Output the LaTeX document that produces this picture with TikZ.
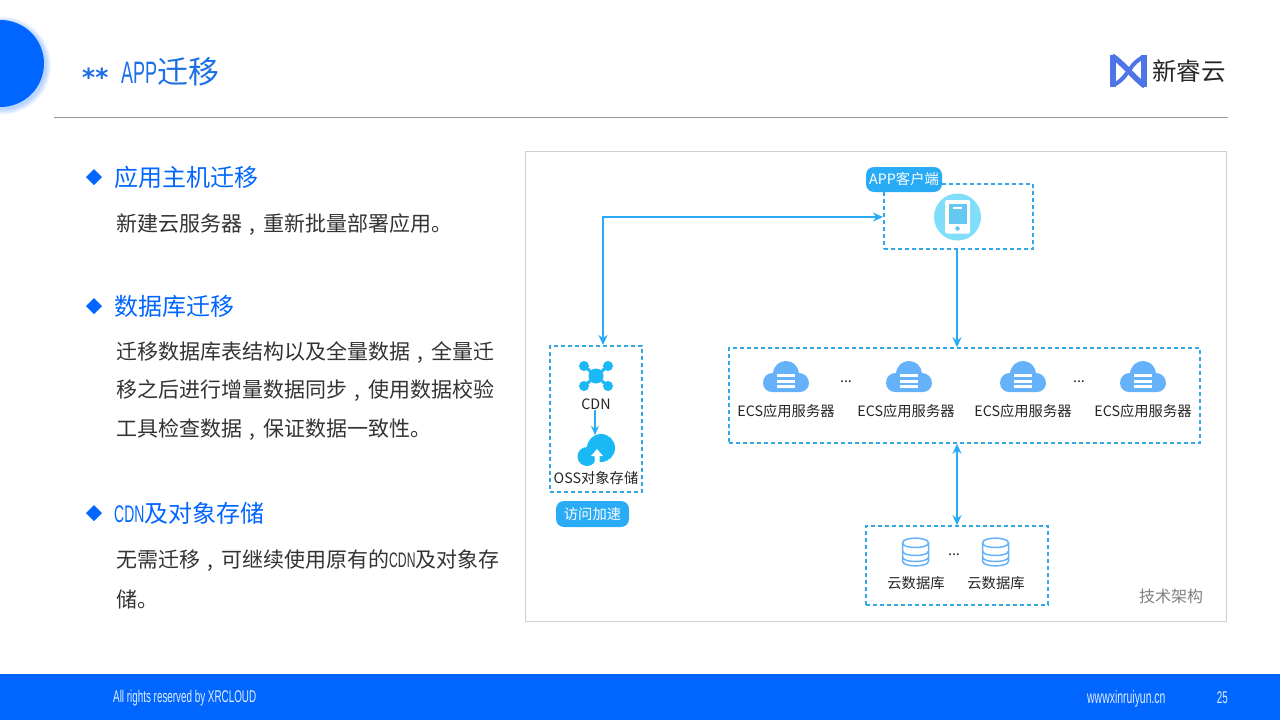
\documentclass[tikz,border=0pt]{standalone}
\usepackage{fontspec}
\usetikzlibrary{arrows.meta}
\setmainfont{Noto Sans CJK SC}
\newfontfamily\narrowfont[FakeStretch=0.58]{Liberation Sans}
\newfontfamily\starfont{DejaVu Sans}
\newcommand{\midcomma}{\makebox[1em]{,}}
\definecolor{mainblue}{RGB}{0,102,255}
\definecolor{titleblue}{RGB}{26,110,230}
\definecolor{linkblue}{RGB}{41,171,245}
\definecolor{dashblue}{RGB}{51,168,232}
\definecolor{iconblue}{RGB}{102,178,250}
\definecolor{cyanblue}{RGB}{26,184,245}
\definecolor{palecyan}{RGB}{128,222,250}
\definecolor{logoblue}{RGB}{79,116,232}
\tikzset{
	headtext/.style={anchor=west,inner sep=0pt,text=mainblue,font=\fontsize{24}{28}\selectfont},
	bodytext/.style={anchor=west,inner sep=0pt,text=black!80,font=\fontsize{21}{25}\selectfont},
	smalltext/.style={inner sep=0pt,text=black!85,font=\fontsize{14.3}{17}\selectfont},
	foottext/.style={inner sep=0pt,text=white!88!mainblue,font=\narrowfont\fontsize{17}{20}\selectfont},
	dashbox/.style={draw=dashblue,line width=1.6pt,dash pattern=on 4pt off 3pt,inner sep=0pt},
	pill/.style={fill=linkblue,rounded corners=8pt,inner sep=0pt,text=white,font=\fontsize{14.3}{17}\selectfont},
	link/.style={draw=linkblue,line width=1.7pt,>={Stealth[length=10pt,width=9pt]}},
	logoline/.style={draw=logoblue,line cap=butt},
	bullet/.pic={\fill [mainblue] (-8,0) -- (0,-8) -- (8,0) -- (0,8) -- cycle ;},
	ecscloud/.pic={
		\begin{scope}[yscale=-1]
		\fill [iconblue] (-23,8) .. controls (-23,1) and (-18,-2) .. (-13,-2) .. controls (-12,-10) and (-6,-14) .. (0,-14) .. controls (7,-14) and (12,-9) .. (13,-2) .. controls (18,-2) and (23,2) .. (23,8) .. controls (23,13) and (19,17) .. (14,17) -- (-14,17) .. controls (-19,17) and (-23,13) .. (-23,8) -- cycle ;
		\foreach \bary in {-1,4.5,10}
			\fill [white] (-9,\bary) rectangle (9,\bary+3.4);
		\end{scope}
	},
	dbicon/.pic={
		\begin{scope}[yscale=-1]
		\draw [iconblue,line width=1.5pt] (-13,-9) .. controls (-13,-15.5) and (13,-15.5) .. (13,-9) -- (13,9) .. controls (13,15.5) and (-13,15.5) .. (-13,9) -- cycle ;
		\draw [iconblue,line width=1.5pt] (-13,-9) .. controls (-13,-3) and (13,-3) .. (13,-9) ;
		\draw [iconblue,line width=1.5pt] (-13,-1) .. controls (-13,5) and (13,5) .. (13,-1) ;
		\draw [iconblue,line width=1.5pt] (-13,5) .. controls (-13,11) and (13,11) .. (13,5) ;
		\end{scope}
	},
}
\begin{document}
\begin{tikzpicture}[x=1pt,y=1pt,yscale=-1,xscale=1]
	\useasboundingbox (0,0) rectangle (1280,720);
	%Shape: Background
	\fill [white] (0,0) rectangle (1280,720);
	%Shape: Corner circle with soft shadow
	\foreach \rad in {49,48,47,46,45,44}
		\fill [mainblue,opacity=0.05] (2,65.5) circle (\rad);
	\fill [mainblue] (0.5,63.5) circle (43.5);
	%Straight Lines
	\draw [color=black!40,line width=0.8pt] (54,117.5) -- (1228,117.5) ;
	%Shape: Footer
	\fill [mainblue] (0,674) rectangle (1280,720);
	%Shape: Frame
	\draw [color=black!18,line width=0.8pt] (525.5,151.5) rectangle (1226.5,621.5) ;

	% Title
	\draw (82,77) node [anchor=west,inner sep=0pt,text=titleblue,font=\starfont\bfseries\fontsize{25}{28}\selectfont] (titlestars) {**};
	\draw (121,72) node [anchor=west,inner sep=0pt,text=titleblue,font=\fontsize{31}{36}\selectfont] (titletext) {{\narrowfont APP}迁移};

	%Shape: Logo
	\draw [logoline,line width=6pt] (1113,55) -- (1113,87) ;
	\draw [logoline,line width=6pt] (1144,55) -- (1144,87) ;
	\draw [logoline,line width=5.5pt] (1112,56) .. controls (1122,62) and (1135,79) .. (1145,86) ;
	\draw [logoline,line width=4pt] (1143,57) .. controls (1138,60) and (1134,63) .. (1130,69) ;
	\draw [logoline,line width=4pt] (1114,85) .. controls (1119,82) and (1123,79) .. (1127,73) ;
	\fill [white] (1109,50) -- (1148,50) -- (1148,53.5) -- (1128.5,53.5) -- cycle ;
	\fill [white] (1109,92) -- (1148,92) -- (1148,88.5) -- (1109,88.5) -- cycle ;
	\draw (1152,71) node [anchor=west,inner sep=0pt,text=black!85,font=\fontsize{24.5}{28}\selectfont] (logotext) {新睿云};

	%Left column
	\pic at (94,177) {bullet};
	\draw (114,177) node [headtext] (headhost) {应用主机迁移};
	\draw (116,225) node [bodytext] (bodyhost) {新建云服务器\midcomma 重新批量部署应用。};
	\pic at (94,306) {bullet};
	\draw (114,306) node [headtext] (headdata) {数据库迁移};
	\draw (116,353) node [bodytext] (bodydataa) {迁移数据库表结构以及全量数据\midcomma 全量迁};
	\draw (116,391) node [bodytext] (bodydatab) {移之后进行增量数据同步\midcomma 使用数据校验};
	\draw (116,430) node [bodytext] (bodydatac) {工具检查数据\midcomma 保证数据一致性。};
	\pic at (94,513) {bullet};
	\draw (114,513) node [headtext] (headcdn) {{\narrowfont CDN}及对象存储};
	\draw (116,561) node [bodytext] (bodycdna) {无需迁移\midcomma 可继续使用原有的{\narrowfont CDN}及对象存};
	\draw (116,599) node [bodytext] (bodycdnb) {储。};

	%Dashed boxes
	\draw (958.5,216.5) node [dashbox,minimum width=149,minimum height=65] (appbox) {};
	\draw (596,419) node [dashbox,minimum width=92,minimum height=146] (cdnbox) {};
	\draw (964.5,395.5) node [dashbox,minimum width=471,minimum height=95] (ecsbox) {};
	\draw (957,565.5) node [dashbox,minimum width=182,minimum height=79] (dbbox) {};

	%Pills
	\draw (904,179.5) node [pill,minimum width=76,minimum height=25] (apppill) {APP客户端};
	\draw (592.5,514) node [pill,minimum width=73,minimum height=26] (speedpill) {访问加速};

	%Connectors
	\coordinate (cdntop) at (603,345);
	\coordinate (appleft) at (883,217);
	\draw [link,<->] (cdntop) |- (appleft) ;
	\draw [link,->] (appbox.south -| 957,0) -- (ecsbox.north -| 957,0) ;
	\draw [link,<->] (dbbox.north) -- (dbbox.north |- ecsbox.south) ;

	%Shape: Phone icon
	\fill [palecyan] (957.5,217) circle (23.5);
	\fill [white,rounded corners=1.5pt] (945,200) rectangle (970,233.5);
	\fill [color={rgb, 255:red, 100; green, 200; blue, 240 }] (948.5,204) rectangle (966.5,224);
	\fill [white] (953,207) rectangle (962,209);
	\fill [color={rgb, 255:red, 100; green, 200; blue, 240 }] (957.5,228.5) circle (2.3);

	%Shape: CDN icon
	\foreach \dotx/\doty in {584/366,608/366,584/386,608/386} {
		\draw [cyanblue,line width=3pt] (596,376) -- (\dotx,\doty) ;
		\fill [cyanblue] (\dotx,\doty) circle (5);
	}
	\fill [cyanblue] (596,376) circle (7.5);
	\draw (596,404) node [smalltext] (cdnlabel) {CDN};
	\draw (596,478) node [smalltext] (osslabel) {OSS对象存储};
	\coordinate (cdnarrowend) at (595,435);
	\draw [link,->,>={Stealth[length=9pt,width=8pt]}] (cdnlabel.south -| cdnarrowend) -- (cdnarrowend) ;

	%Shape: OSS icon
	\fill [cyanblue] (601,448) circle (14);
	\fill [cyanblue] (587,456.5) circle (9.5);
	\fill [white] (597,449) -- (603,456) -- (599.5,456) -- (599.5,464) -- (594.5,464) -- (594.5,456) -- (591,456) -- cycle ;

	%ECS row
	\pic at (786,375) {ecscloud};
	\pic at (909,375) {ecscloud};
	\pic at (1023,375) {ecscloud};
	\pic at (1143,375) {ecscloud};
	\draw (846,382) node [smalltext] (ecsdotsa) {...};
	\draw (1079,382) node [smalltext] (ecsdotsb) {...};
	\draw (786,411) node [smalltext] (ecslabela) {ECS应用服务器};
	\draw (906,411) node [smalltext] (ecslabelb) {ECS应用服务器};
	\draw (1023,411) node [smalltext] (ecslabelc) {ECS应用服务器};
	\draw (1143,411) node [smalltext] (ecslabeld) {ECS应用服务器};

	%Database row
	\pic at (915.5,552) {dbicon};
	\pic at (995.5,552) {dbicon};
	\draw (954,555) node [smalltext] (dbdots) {...};
	\draw (916,583) node [smalltext] (dblabela) {云数据库};
	\draw (996,583) node [smalltext] (dblabelb) {云数据库};
	\draw (1171,596) node [inner sep=0pt,text=black!50,font=\fontsize{16}{19}\selectfont] (archlabel) {技术架构};

	%Footer text
	\draw (113,698) node [foottext,anchor=west] (rightstext) {All rights reserved by XRCLOUD};
	\draw (1087,698.5) node [foottext,anchor=west,font=\narrowfont\fontsize{18}{20}\selectfont] (sitetext) {wwwxinruiyun.cn};
	\draw (1228,698) node [foottext,anchor=east] (pagetext) {25};
\end{tikzpicture}
\end{document}
